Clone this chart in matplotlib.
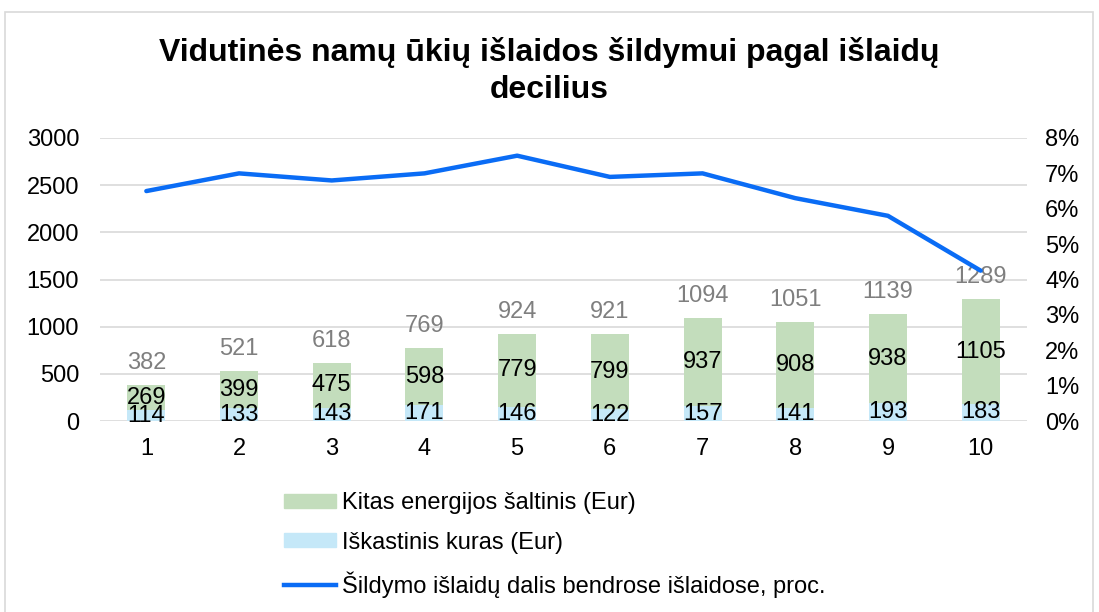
import numpy as np
import matplotlib
matplotlib.use("Agg")
import matplotlib.pyplot as plt
from matplotlib.patches import Patch, Rectangle
from matplotlib.lines import Line2D

# duomenys pagal decilius
decilis = [1, 2, 3, 4, 5, 6, 7, 8, 9, 10]
iskastinis = [114, 133, 143, 171, 146, 122, 157, 141, 193, 183]
kitas = [269, 399, 475, 598, 779, 799, 937, 908, 938, 1105]
viso = [382, 521, 618, 769, 924, 921, 1094, 1051, 1139, 1289]
dalis = [6.5, 7.0, 6.8, 7.0, 7.5, 6.9, 7.0, 6.3, 5.8, 4.25]

plt.rcParams['font.family'] = ['Liberation Sans', 'DejaVu Sans']
fs = 17
zalia = '#C3DDBC'
melyna = '#C5E8F8'
linija = '#0A6CF5'
pilka = '#D9D9D9'

fig = plt.figure(figsize=(10.99, 6.12), dpi=100)
ax = fig.add_axes([100/1099, 1-421/612, 927/1099, 283/612])
ax2 = ax.twinx()

x = np.array(decilis)
w = 0.41
ax.bar(x, iskastinis, w, color=melyna, zorder=2)
ax.bar(x, kitas, w, bottom=iskastinis, color=zalia, zorder=2)

for i in range(len(x)):
    ax.text(x[i], iskastinis[i]/2, str(iskastinis[i]), ha='center', va='center',
            fontsize=fs, color='black', zorder=3)
    ax.text(x[i], iskastinis[i] + kitas[i]/2, str(kitas[i]), ha='center', va='center',
            fontsize=fs, color='black', zorder=3)
    ax.annotate(str(viso[i]), (x[i], iskastinis[i] + kitas[i]), xytext=(0, 8),
                textcoords='offset points', ha='center', va='bottom',
                fontsize=fs, color='#7F7F7F', zorder=3)

ax.set_ylim(0, 3000)
ax.set_yticks(np.arange(0, 3001, 500))
ax.set_xlim(0.5, 10.5)
ax.set_xticks(x)
ax.grid(axis='y', color=pilka, linewidth=1.2, zorder=0)
ax.set_axisbelow(True)
for s in ax.spines.values():
    s.set_visible(False)
ax.tick_params(axis='y', length=0, pad=15, labelsize=fs)
ax.tick_params(axis='x', length=0, pad=12, labelsize=fs)

ax2.plot(x, dalis, color=linija, linewidth=3.2, solid_capstyle='round', zorder=4)
ax2.set_ylim(0, 8)
ax2.set_yticks(range(0, 9))
ax2.set_yticklabels([f'{v}%' for v in range(0, 9)])
ax2.tick_params(axis='y', length=0, pad=13, labelsize=fs)
for s in ax2.spines.values():
    s.set_visible(False)

fig.text(0.5, 1-52/612, 'Vidutinės namų ūkių išlaidos šildymui pagal išlaidų', ha='center',
         va='center', fontsize=23, fontweight='bold')
fig.text(0.5, 1-90/612, 'decilius', ha='center', va='center', fontsize=23, fontweight='bold')

rankos = [Patch(color=zalia), Patch(color=melyna), Line2D([0], [0], color=linija, linewidth=3.2)]
pavad = ['Kitas energijos šaltinis (Eur)', 'Iškastinis kuras (Eur)',
         'Šildymo išlaidų dalis bendrose išlaidose, proc.']
fig.legend(rankos, pavad, loc='upper left', bbox_to_anchor=(284/1099, 1-492/612),
           frameon=False, fontsize=fs, borderpad=0, borderaxespad=0, handlelength=2.2,
           handleheight=0.55, handletextpad=0.25, labelspacing=0.75)

fig.patches.append(Rectangle((5/1099, -0.02), 1088/1099, 1.02-12/612, transform=fig.transFigure,
                             fill=False, edgecolor=pilka, linewidth=1.2))

fig.savefig('out.png', dpi=100)
